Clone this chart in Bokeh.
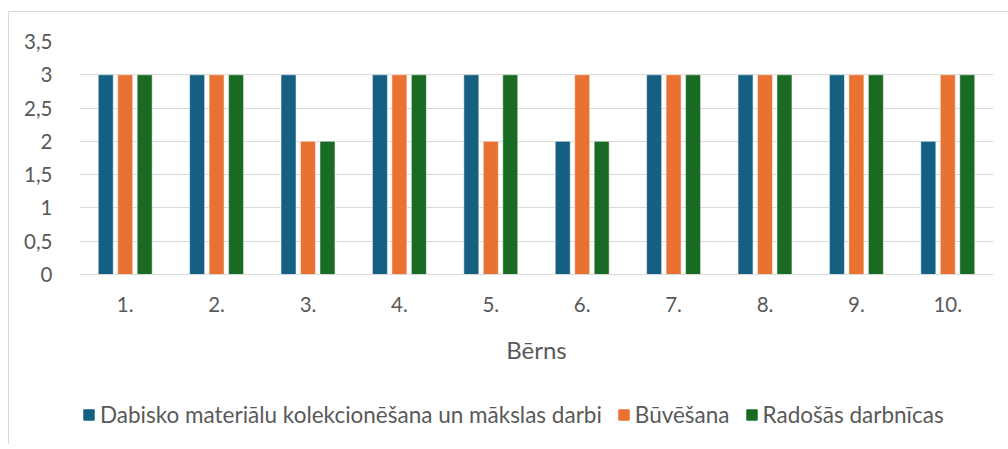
from bokeh.plotting import figure
from bokeh.layouts import column
from bokeh.models import FactorRange, Range1d, FixedTicker, Legend, LegendItem, ColumnDataSource
from bokeh.transform import dodge
from bokeh.embed import file_html
from bokeh.resources import INLINE

children = ["1.", "2.", "3.", "4.", "5.", "6.", "7.", "8.", "9.", "10."]
series_names = ["Dabisko materiālu kolekcionēšana un mākslas darbi", "Būvēšana", "Radošās darbnīcas"]
dabisko = [3, 3, 3, 3, 3, 2, 3, 3, 3, 2]
buvesana = [3, 3, 2, 3, 2, 3, 3, 3, 3, 3]
radosas = [3, 3, 2, 3, 3, 2, 3, 3, 3, 3]
colors = ["#156082", "#E97132", "#196B24"]
y_ticks = [0, 0.5, 1, 1.5, 2, 2.5, 3, 3.5]
y_tick_labels = ["0", "0,5", "1", "1,5", "2", "2,5", "3", "3,5"]

FONT = "Lato"
TXT = "#595959"

src = ColumnDataSource(dict(x=children, a=dabisko, b=buvesana, c=radosas))

p = figure(x_range=FactorRange(*children), y_range=Range1d(0, 3.5),
           width=999, height=362, output_backend="svg", toolbar_location=None,
           min_border_left=70, min_border_right=15, min_border_top=29, min_border_bottom=100)
p.outline_line_color = None

for col, off, color in zip(["a", "b", "c"], [-0.213, 0.0, 0.213], colors):
    p.vbar(x=dodge("x", off, range=p.x_range), top=col, width=0.164, source=src,
           fill_color=color, line_color="white", line_width=0.5)

p.xgrid.grid_line_color = None
p.ygrid.grid_line_color = "#d9d9d9"
p.ygrid.grid_line_width = 1

p.yaxis.ticker = FixedTicker(ticks=y_ticks)
p.yaxis.major_label_overrides = {t: l for t, l in zip(y_ticks, y_tick_labels)}
p.yaxis.axis_line_color = None
p.yaxis.major_tick_line_color = None
p.yaxis.minor_tick_line_color = None
p.yaxis.major_label_standoff = 21
p.yaxis.major_label_text_font = FONT
p.yaxis.major_label_text_font_size = "20.5px"
p.yaxis.major_label_text_color = TXT

p.xaxis.axis_line_color = "#d9d9d9"
p.xaxis.major_tick_line_color = None
p.xaxis.major_label_standoff = 16
p.xaxis.major_label_text_font = FONT
p.xaxis.major_label_text_font_size = "20.5px"
p.xaxis.major_label_text_color = TXT
p.xaxis.axis_label = "Bērns"
p.xaxis.axis_label_text_font = FONT
p.xaxis.axis_label_text_font_size = "24px"
p.xaxis.axis_label_text_font_style = "normal"
p.xaxis.axis_label_text_color = TXT
p.xaxis.axis_label_standoff = 20

# legend strip below the chart (its bars lie outside its visible y range)
leg_fig = figure(x_range=FactorRange(*children), y_range=Range1d(10, 11),
                 width=999, height=70, output_backend="svg", toolbar_location=None,
                 x_axis_type=None, y_axis_type=None, min_border=0)
leg_fig.outline_line_color = None
leg_fig.xgrid.grid_line_color = None
leg_fig.ygrid.grid_line_color = None
leg_renderers = []
for col, color in zip(["a", "b", "c"], colors):
    leg_renderers.append(leg_fig.vbar(x="x", top=col, width=0.164, source=src,
                                      fill_color=color, line_color=color))

legend = Legend(items=[LegendItem(label=n, renderers=[r]) for n, r in zip(series_names, leg_renderers)],
                orientation="horizontal", location=(3, 16))
legend.label_text_font = FONT
legend.label_text_font_size = "22.5px"
legend.label_text_color = TXT
legend.glyph_width = 13
legend.glyph_height = 13
legend.label_standoff = 5
legend.spacing = 15
legend.border_line_color = None
legend.background_fill_alpha = 0
legend.margin = 0
legend.padding = 0
leg_fig.add_layout(legend, "center")

layout = column(p, leg_fig, spacing=0,
                styles={"border-top": "1px solid #d9d9d9", "border-left": "1px solid #d9d9d9",
                        "margin-top": "11px", "margin-left": "8px"})

open("out.html", "w").write(file_html(layout, INLINE))
